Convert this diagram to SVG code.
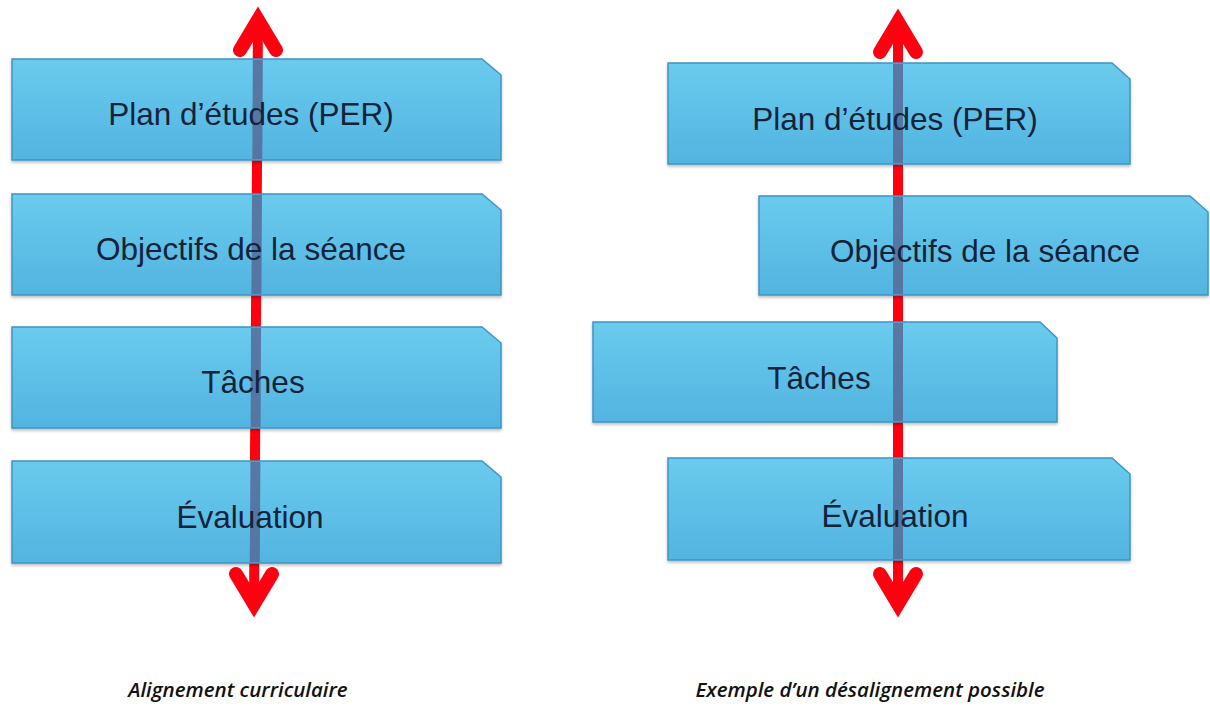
<svg xmlns="http://www.w3.org/2000/svg" width="1210" height="710" viewBox="0 0 1210 710">
<defs>
<linearGradient id="g" x1="0" y1="0" x2="0" y2="1">
<stop offset="0" stop-color="#6acbee"/>
<stop offset="1" stop-color="#52b4e0"/>
</linearGradient>
<filter id="sh" x="-5%" y="-10%" width="110%" height="130%">
<feDropShadow dx="0" dy="2" stdDeviation="1.5" flood-color="#000" flood-opacity="0.25"/>
</filter>
</defs>
<style>
.box{fill:url(#g);stroke:#3f95c4;stroke-width:1.5;filter:url(#sh)}
.t{font-family:"Liberation Sans",Arial,sans-serif;font-size:31.5px;fill:#14233a;text-anchor:middle}
.cap{font-family:"Open Sans","Liberation Sans",sans-serif;font-style:italic;font-weight:600;font-size:20.5px;fill:#111;text-anchor:middle}
.shaft{stroke:#ff0010;stroke-width:10;fill:none}
.head{stroke:#ff0010;stroke-width:14;fill:none;stroke-linecap:round;stroke-linejoin:miter}
.thru{stroke:#55709c;stroke-width:10;opacity:0.9}
</style>
<rect width="1210" height="710" fill="#fff"/>
<g id="connectors">
<g id="arrow-left">
<line class="shaft" x1="258" y1="18" x2="254" y2="606"/>
<polyline class="head" points="240,50 258,20 276,50"/>
<polyline class="head" points="236,574 254,604 272,574"/>
</g>
<g id="arrow-right">
<line class="shaft" x1="898" y1="20" x2="898" y2="606"/>
<polyline class="head" points="880,52 898,22 916,52"/>
<polyline class="head" points="880,574 898,604 916,574"/>
</g>
</g>
<g id="left-plan"><path class="box" d="M12,59 H482 L501,75 V160 H12 Z"/><line class="thru" x1="257.8" y1="60" x2="257.3" y2="159"/><text class="t" x="251" y="125">Plan d’études (PER)</text></g>
<g id="left-objectifs"><path class="box" d="M12,194 H482 L501,210 V295 H12 Z"/><line class="thru" x1="257" y1="195" x2="256.4" y2="294"/><text class="t" x="251" y="260">Objectifs de la séance</text></g>
<g id="left-taches"><path class="box" d="M12,327 H482 L501,343 V428 H12 Z"/><line class="thru" x1="256" y1="328" x2="255.6" y2="427"/><text class="t" x="253" y="393">Tâches</text></g>
<g id="left-evaluation"><path class="box" d="M12,461 H482 L501,477 V563 H12 Z"/><line class="thru" x1="255.4" y1="462" x2="254.8" y2="562"/><text class="t" x="250" y="528">Évaluation</text></g>
<g id="right-plan"><path class="box" d="M668,63 H1112 L1130,79 V164 H668 Z"/><line class="thru" x1="898" y1="64" x2="898" y2="163"/><text class="t" x="895" y="130">Plan d’études (PER)</text></g>
<g id="right-objectifs"><path class="box" d="M759,196 H1190 L1208,212 V295 H759 Z"/><line class="thru" x1="898" y1="197" x2="898" y2="294"/><text class="t" x="985" y="262">Objectifs de la séance</text></g>
<g id="right-taches"><path class="box" d="M593,322 H1040 L1057,338 V422 H593 Z"/><line class="thru" x1="898" y1="323" x2="898" y2="421"/><text class="t" x="819" y="389">Tâches</text></g>
<g id="right-evaluation"><path class="box" d="M668,458 H1112 L1130,474 V560 H668 Z"/><line class="thru" x1="898" y1="459" x2="898" y2="559"/><text class="t" x="895" y="527">Évaluation</text></g>
<text class="cap" x="238" y="697">Alignement curriculaire</text>
<text class="cap" x="870" y="697">Exemple d’un désalignement possible</text>
</svg>
